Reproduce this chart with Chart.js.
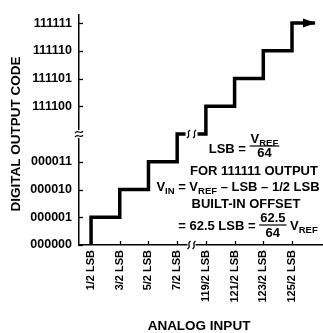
<!DOCTYPE html>
<html><head><meta charset="utf-8">
<script src="https://cdn.jsdelivr.net/npm/chart.js@4/dist/chart.umd.min.js"></script>
<style>html,body{margin:0;padding:0;background:#fff}#wrap{width:323px;height:333px;position:relative}</style>
</head><body><div id="wrap"><canvas id="c" width="323" height="333"></canvas></div>
<script>
// ---- data ----
const xTickLabels = ['1/2 LSB','3/2 LSB','5/2 LSB','7/2 LSB','119/2 LSB','121/2 LSB','123/2 LSB','125/2 LSB'];
const xTickValues = [0.5, 1.5, 2.5, 3.5, 59.5, 60.5, 61.5, 62.5];           // analog input, LSB
const yTickLabels = ['000000','000001','000010','000011','111100','111101','111110','111111'];
const yTickValues = [0, 1, 2, 3, 60, 61, 62, 63];                            // output code
const analogInput = [0.5, 1.5, 2.5, 3.5, 59.5, 60.5, 61.5, 62.5, 63.3];      // staircase corners (LSB)
const outputCode  = [0, 1, 2, 3, 4, 60, 61, 62, 63];                          // code reached at each corner

// broken-axis mapping (codes/inputs between the breaks are omitted)
function xIdx(v){ return v <= 30 ? v - 0.5 : v - 55.5; }
function yIdx(c){ return c <= 30 ? c : c - 55; }

const FAM = '"Liberation Sans", Arial, Helvetica, sans-serif';
const AS = 13; // annotation font size

function fnt(size){ return `bold ${size}px ${FAM}`; }
function segsWidth(c, segs){
  let w = 0;
  segs.forEach(s => { c.font = fnt(s.sub ? 9.5 : AS); w += c.measureText(s.t).width; });
  return w;
}
function drawSegs(c, segs, x, y){
  segs.forEach(s => {
    c.font = fnt(s.sub ? 9.5 : AS);
    c.fillText(s.t, x, y + (s.sub ? 2.5 : 0));
    x += c.measureText(s.t).width;
  });
  return x;
}
// items: {segs:[...]} or {num:[...], den:[...]}
function drawRow(c, items, cx, base, fracLine, numBase, denBase){
  const widths = items.map(it => it.segs ? segsWidth(c, it.segs)
      : Math.max(segsWidth(c, it.num), segsWidth(c, it.den)) + 2);
  const total = widths.reduce((a,b)=>a+b, 0);
  let x = cx - total/2;
  items.forEach((it, i) => {
    const w = widths[i];
    if (it.segs) { drawSegs(c, it.segs, x, base); }
    else {
      const nw = segsWidth(c, it.num), dw = segsWidth(c, it.den);
      drawSegs(c, it.num, x + (w - nw)/2, numBase);
      drawSegs(c, it.den, x + (w - dw)/2, denBase);
      c.beginPath(); c.lineWidth = 1.2; c.moveTo(x, fracLine); c.lineTo(x + w, fracLine); c.stroke();
    }
    x += w;
  });
}

const deco = {
  id: 'deco',
  beforeDraw(ch){ const c = ch.ctx; c.save(); c.fillStyle = '#fff'; c.fillRect(0,0,ch.width,ch.height); c.restore(); },
  afterDraw(ch){
    const c = ch.ctx, xs = ch.scales.x, ys = ch.scales.y, a = ch.chartArea;
    c.save();
    c.strokeStyle = '#000'; c.fillStyle = '#000'; c.lineWidth = 1.3;
    // inward tick marks
    xTickValues.forEach(v => { const px = Math.round(xs.getPixelForValue(xIdx(v))) + 0.5;
      c.beginPath(); c.moveTo(px, a.bottom); c.lineTo(px, a.bottom - 4); c.stroke(); });
    yTickValues.forEach(v => { const py = Math.round(ys.getPixelForValue(yIdx(v))) + 0.5;
      c.beginPath(); c.moveTo(a.left, py); c.lineTo(a.left + 4, py); c.stroke(); });

    // y-axis break
    const by = ys.getPixelForValue(4);
    c.fillStyle = '#fff'; c.fillRect(a.left - 3, by - 4, 6, 8); c.fillStyle = '#000';
    c.lineWidth = 1.2;
    [-2, 2].forEach(dy => { c.beginPath();
      c.moveTo(a.left - 4, by + dy + 1);
      c.bezierCurveTo(a.left - 1, by + dy - 3, a.left + 1, by + dy + 3, a.left + 4, by + dy - 1); c.stroke(); });
    // x-axis break
    const bx = xs.getPixelForValue(3.5);
    c.fillStyle = '#fff'; c.fillRect(bx - 4, a.bottom - 3, 8, 6); c.fillStyle = '#000';
    [-2.5, 2.5].forEach(dx => { c.beginPath();
      c.moveTo(bx + dx - 1.5, a.bottom + 4);
      c.bezierCurveTo(bx + dx + 3, a.bottom + 1, bx + dx - 3, a.bottom - 1, bx + dx + 1.5, a.bottom - 4); c.stroke(); });
    // staircase break
    const sy = ys.getPixelForValue(4);
    c.fillStyle = '#fff'; c.fillRect(bx - 6, sy - 3, 12, 6); c.fillStyle = '#000';
    [-3, 3].forEach(dx => { c.beginPath();
      c.moveTo(bx + dx - 1.5, sy + 4);
      c.bezierCurveTo(bx + dx + 3, sy + 1, bx + dx - 3, sy - 1, bx + dx + 1.5, sy - 4); c.stroke(); });

    // arrowhead at the end of the staircase
    const pts = ch.getDatasetMeta(0).data, last = pts[pts.length - 1];
    c.beginPath(); c.moveTo(last.x + 1, last.y); c.lineTo(last.x - 12, last.y - 4.5); c.lineTo(last.x - 12, last.y + 4.5); c.closePath(); c.fill();

    // axis titles
    c.textAlign = 'center'; c.textBaseline = 'middle';
    c.font = fnt(13.5); c.fillText('ANALOG INPUT', 199, 326);
    c.save(); c.translate(16, 134); c.rotate(-Math.PI/2); c.font = fnt(13.5); c.fillText('DIGITAL OUTPUT CODE', 0, 0); c.restore();

    // annotation text
    c.textAlign = 'left'; c.textBaseline = 'alphabetic';
    drawRow(c, [{segs:[{t:'LSB = '}]}, {num:[{t:'V'},{t:'REF',sub:true}], den:[{t:'64'}]}], 244, 153, 146, 143, 157);
    drawRow(c, [{segs:[{t:'FOR 111111 OUTPUT'}]}], 254, 175);
    drawRow(c, [{segs:[{t:'V'},{t:'IN',sub:true},{t:' = V'},{t:'REF',sub:true},{t:' \u2013 LSB \u2013 1/2 LSB'}]}], 238, 191);
    drawRow(c, [{segs:[{t:'BUILT-IN OFFSET'}]}], 246, 208);
    drawRow(c, [{segs:[{t:'= 62.5 LSB = '}]}, {num:[{t:'62.5'}], den:[{t:'64'}]}, {segs:[{t:' V'},{t:'REF',sub:true}]}], 248, 230, 225, 222, 237);
    c.restore();
  }
};

const ctx = document.getElementById('c').getContext('2d');
new Chart(ctx, {
  type: 'line',
  data: { datasets: [{
    data: analogInput.map((v, i) => ({ x: xIdx(v), y: yIdx(outputCode[i]) })),
    stepped: 'after', borderColor: '#000', borderWidth: 3.5, pointRadius: 0,
    fill: false, borderCapStyle: 'butt', borderJoinStyle: 'miter'
  }]},
  options: {
    responsive: false, animation: false, devicePixelRatio: 1,
    layout: { padding: { top: 7, right: 0, left: 0, bottom: 0 }, autoPadding: false },
    plugins: { legend: { display: false }, tooltip: { enabled: false } },
    scales: {
      x: {
        type: 'linear', min: -0.42, max: 8.08,
        grid: { display: false, drawTicks: false },
        border: { display: true, color: '#000', width: 1.5 },
        afterBuildTicks: s => { s.ticks = xTickValues.map(v => ({ value: xIdx(v) })); },
        ticks: { autoSkip: false, maxRotation: 90, minRotation: 90, padding: 5, color: '#000',
                 font: { family: FAM, size: 11, weight: 'bold' },
                 callback: (val, i) => xTickLabels[i] },
        afterFit: s => { s.height = 88; }
      },
      y: {
        type: 'linear', min: 0, max: 8.31,
        grid: { display: false, drawTicks: false },
        border: { display: true, color: '#000', width: 1.5 },
        afterBuildTicks: s => { s.ticks = yTickValues.map(v => ({ value: yIdx(v) })); },
        ticks: { autoSkip: false, padding: 7, color: '#000',
                 font: { family: FAM, size: 12.5, weight: 'bold' },
                 callback: (val, i) => yTickLabels[i] },
        afterFit: s => { s.width = 79; }
      }
    }
  },
  plugins: [deco]
});
</script></body></html>
